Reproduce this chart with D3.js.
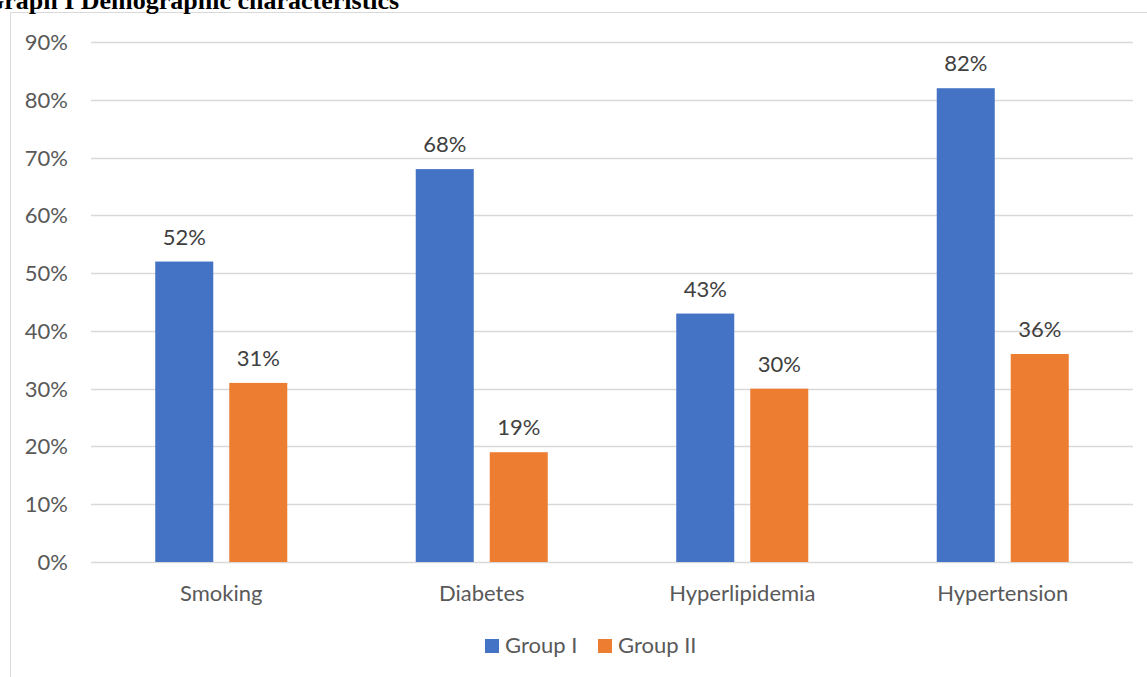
<!DOCTYPE html>
<html>
<head>
<meta charset="utf-8">
<script src="https://d3js.org/d3.v7.min.js"></script>
<style>
  html, body { margin: 0; padding: 0; background: #fff; }
  svg { display: block; }
</style>
</head>
<body>
<svg id="chart" width="1147" height="677"></svg>
<script>
// Risk-factor prevalence by group
const categories = ["Smoking", "Diabetes", "Hyperlipidemia", "Hypertension"];
const seriesNames = ["Group I", "Group II"];
const groupI = [52, 68, 43, 82];
const groupII = [31, 19, 30, 36];
const yTicks = [0, 10, 20, 30, 40, 50, 60, 70, 80, 90];
const colors = ["#4472c4", "#ed7d31"];

const svg = d3.select("#chart");
const font = "Lato, 'Open Sans', sans-serif";
const textColor = "#595959";
const fs = 22;

// chart frame
svg.append("rect")
  .attr("x", 10.5).attr("y", 12.5)
  .attr("width", 1160).attr("height", 700)
  .attr("fill", "none").attr("stroke", "#d9d9d9").attr("stroke-width", 1);

// heading
svg.append("text")
  .attr("x", -16).attr("y", 9)
  .attr("font-family", "'Liberation Serif', 'Times New Roman', serif")
  .attr("font-weight", "bold").attr("font-size", 26)
  .attr("fill", "#000")
  .text("Graph I Demographic characteristics");

const plot = { left: 91, right: 1133, top: 42, bottom: 562 };

const x = d3.scaleBand().domain(categories).range([plot.left, plot.right]).paddingInner(0).paddingOuter(0);
const y = d3.scaleLinear().domain([0, 90]).range([plot.bottom, plot.top]);
const x1 = d3.scaleBand().domain(seriesNames).range([0, x.bandwidth()]).paddingInner(0.216).paddingOuter(0.868);

// gridlines
svg.append("g").selectAll("line").data(yTicks).join("line")
  .attr("x1", plot.left).attr("x2", plot.right)
  .attr("y1", d => Math.round(y(d)) + 0.5).attr("y2", d => Math.round(y(d)) + 0.5)
  .attr("stroke", "#d9d9d9").attr("stroke-width", 1.5);

// y axis tick labels
svg.append("g").selectAll("text").data(yTicks).join("text")
  .attr("x", 68).attr("y", d => y(d) + 8)
  .attr("text-anchor", "end")
  .attr("font-family", font).attr("font-size", fs).attr("fill", textColor)
  .text(d => d + "%");

const rows = categories.map((c, i) => ({ cat: c, vals: [groupI[i], groupII[i]] }));

const g = svg.append("g").selectAll("g").data(rows).join("g")
  .attr("transform", d => `translate(${x(d.cat)},0)`);

const items = d => d.vals.map((v, j) => ({ v, s: seriesNames[j], j }));

g.selectAll("rect").data(items).join("rect")
  .attr("x", d => x1(d.s)).attr("width", x1.bandwidth())
  .attr("y", d => y(d.v)).attr("height", d => y(0) - y(d.v))
  .attr("fill", d => colors[d.j]);

g.selectAll("text.val").data(items).join("text")
  .attr("class", "val")
  .attr("x", d => x1(d.s) + x1.bandwidth() / 2).attr("y", d => y(d.v) - 17)
  .attr("text-anchor", "middle")
  .attr("font-family", font).attr("font-size", fs).attr("fill", "#404040")
  .text(d => d.v + "%");

// category labels
svg.append("g").selectAll("text").data(categories).join("text")
  .attr("x", d => x(d) + x.bandwidth() / 2).attr("y", 601)
  .attr("text-anchor", "middle")
  .attr("font-family", font).attr("font-size", fs).attr("fill", textColor)
  .text(d => d);

// legend
const legendItems = [{ name: "Group I", x: 485 }, { name: "Group II", x: 598 }];
const lg = svg.append("g").selectAll("g").data(legendItems).join("g")
  .attr("transform", d => `translate(${d.x},639)`);
lg.append("rect").attr("width", 14).attr("height", 14).attr("fill", (d, i) => colors[i]);
lg.append("text").attr("x", 20).attr("y", 14)
  .attr("font-family", font).attr("font-size", fs).attr("fill", textColor)
  .text(d => d.name);
</script>
</body>
</html>
